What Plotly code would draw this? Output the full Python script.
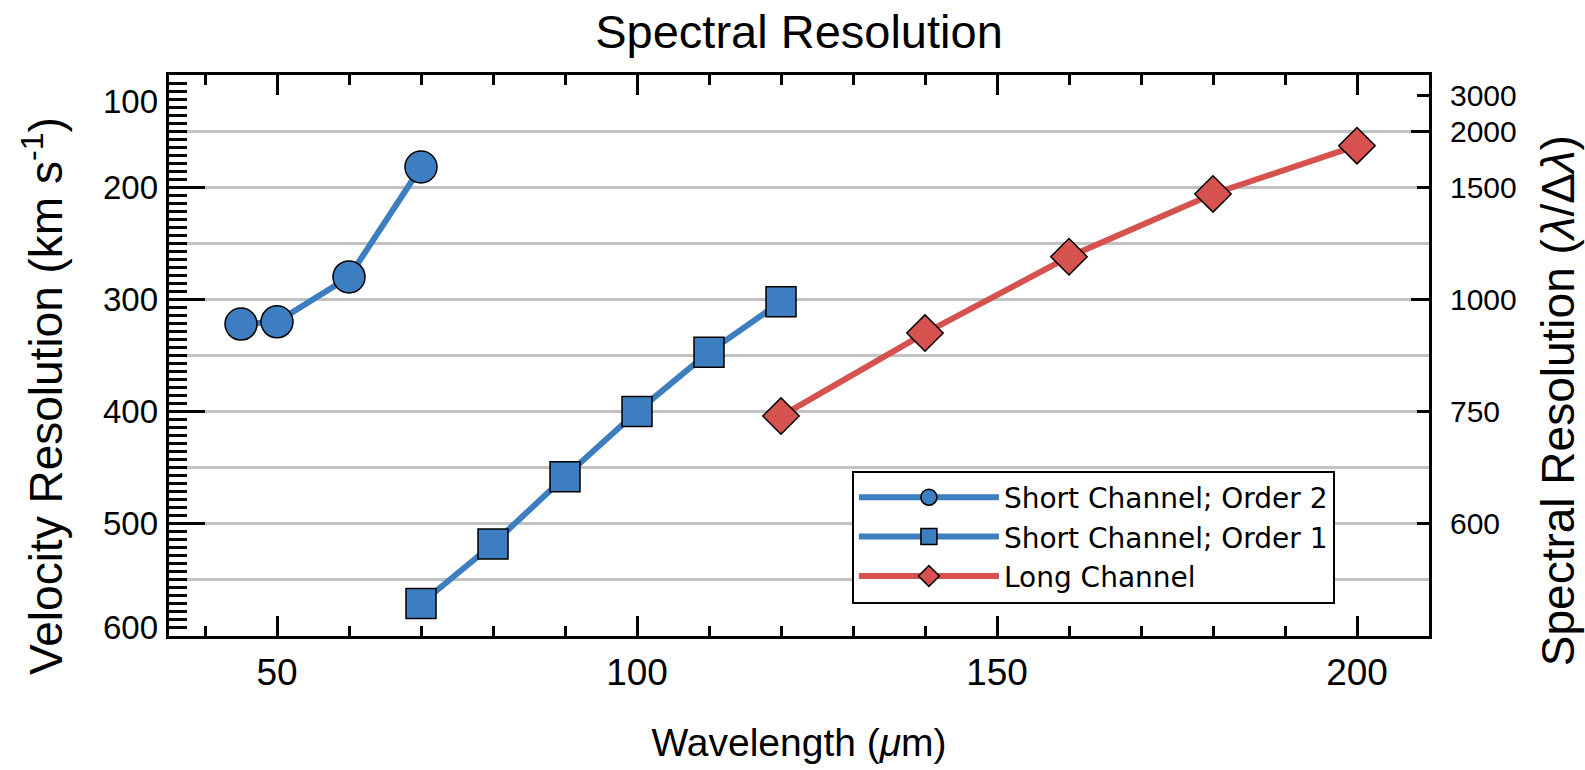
import plotly.graph_objects as go

# ---- data ----
wl_order2 = [45, 50, 60, 70]
vel_order2 = [322, 320, 280, 182]

wl_order1 = [70, 80, 90, 100, 110, 120]
vel_order1 = [571, 518, 458, 400, 347, 302]

wl_long = [120, 140, 160, 180, 200]
vel_long = [404, 330, 262, 206, 163]

names = ["Short Channel; Order 2", "Short Channel; Order 1", "Long Channel"]

left_tick_labels = ["100", "200", "300", "400", "500", "600"]
left_label_pos = [124, 200, 300, 400, 500, 592]
right_tick_labels = ["3000", "2000", "1500", "1000", "750", "600"]
right_tick_pos = [118, 150, 200, 300, 400, 500]
right_long_ticks = [150, 300]

BLUE = "#3D7EC0"
RED = "#D6524F"
FONT = "Liberation Sans, Arial, Helvetica, sans-serif"
YR = [600, 100]

fig = go.Figure()
fig.add_trace(go.Scatter(
    x=wl_order2, y=vel_order2, mode="lines+markers", name=names[0],
    line=dict(color=BLUE, width=6),
    marker=dict(symbol="circle", size=32, color=BLUE, line=dict(color="black", width=1.5))))
fig.add_trace(go.Scatter(
    x=wl_order1, y=vel_order1, mode="lines+markers", name=names[1],
    line=dict(color=BLUE, width=6),
    marker=dict(symbol="square", size=30, color=BLUE, line=dict(color="black", width=1.5))))
fig.add_trace(go.Scatter(
    x=wl_long, y=vel_long, mode="lines+markers", name=names[2],
    line=dict(color=RED, width=6),
    marker=dict(symbol="diamond", size=28, color=RED, line=dict(color="black", width=1.5))))

# empty helper traces so that the overlay axes (labels, grid, right scale) get drawn
for ax in ["y2", "y3", "y4", "y5"]:
    fig.add_trace(go.Scatter(x=[None], y=[None], yaxis=ax, mode="markers",
                             showlegend=False, hoverinfo="skip"))

fig.update_layout(
    width=1585, height=770, autosize=False,
    margin=dict(l=169, r=156, t=75, b=130),
    paper_bgcolor="white", plot_bgcolor="white",
    font=dict(family=FONT, color="black"),
    title=dict(text="Spectral Resolution", x=0.5, xref="paper", xanchor="center",
               y=1 - 32 / 770, yref="container", yanchor="middle",
               font=dict(size=47, family=FONT, color="black")),
    showlegend=True,
    legend=dict(x=0.542, y=0.295, xanchor="left", yanchor="top",
                bgcolor="white", bordercolor="black", borderwidth=2,
                font=dict(size=28, family="DejaVu Sans, Liberation Sans, sans-serif",
                          color="black"),
                itemwidth=140, tracegroupgap=0),
    xaxis=dict(range=[35, 210], tick0=0, dtick=50, ticks="inside", ticklen=20,
               tickwidth=2.5, tickcolor="black", showline=True, linewidth=3,
               linecolor="black", mirror="ticks", showgrid=False, zeroline=False,
               minor=dict(dtick=10, tick0=0, ticks="inside", ticklen=10, tickwidth=2.5,
                          tickcolor="black"),
               tickfont=dict(size=37), ticklabelstandoff=2,
               title=dict(text="Wavelength (<i>μ</i>m)", font=dict(size=39), standoff=37)),
    yaxis=dict(range=YR, tick0=0, dtick=100, ticks="inside", ticklen=36,
               tickwidth=3, tickcolor="black", showline=True, linewidth=3,
               linecolor="black", mirror=False, showgrid=False, zeroline=False,
               showticklabels=False,
               minor=dict(dtick=100 / 14, tick0=100, ticks="inside", ticklen=18,
                          tickwidth=2.5, tickcolor="black")),
    yaxis3=dict(range=YR, overlaying="y", side="left", tickmode="array",
                tickvals=left_label_pos, ticktext=left_tick_labels, ticks="",
                showline=False, showgrid=False, zeroline=False,
                tickfont=dict(size=33), ticklabelstandoff=10),
    yaxis5=dict(range=YR, overlaying="y", side="left", tick0=0, dtick=50,
                showgrid=True, gridcolor="#C2C2C2", gridwidth=2.5,
                showticklabels=False, ticks="", showline=False, zeroline=False),
    yaxis2=dict(range=YR, overlaying="y", side="right", tickmode="array",
                tickvals=right_tick_pos, ticktext=right_tick_labels,
                ticks="inside", ticklen=12, tickwidth=3, tickcolor="black",
                showline=True, linewidth=3, linecolor="black", showgrid=False,
                zeroline=False, tickfont=dict(size=30), ticklabelstandoff=12),
    yaxis4=dict(range=YR, overlaying="y", side="right", tickmode="array",
                tickvals=right_long_ticks, ticks="inside", ticklen=18, tickwidth=3,
                tickcolor="black", showticklabels=False, showline=False,
                showgrid=False, zeroline=False),
    annotations=[
        dict(text="Velocity Resolution (km s<sup>-1</sup>)", textangle=-90,
             xref="paper", yref="paper", x=-0.1, y=0.428,
             xanchor="center", yanchor="middle", showarrow=False,
             font=dict(size=46, family=FONT, color="black")),
        dict(text="Spectral Resolution (<i>λ</i>/Δ<i>λ</i>)", textangle=-90,
             xref="paper", yref="paper", x=1.103, y=0.42,
             xanchor="center", yanchor="middle", showarrow=False,
             font=dict(size=46, family=FONT, color="black")),
    ],
)

fig.write_html("out.html", config={"displayModeBar": False},
               post_script="document.body.style.margin='0';")
